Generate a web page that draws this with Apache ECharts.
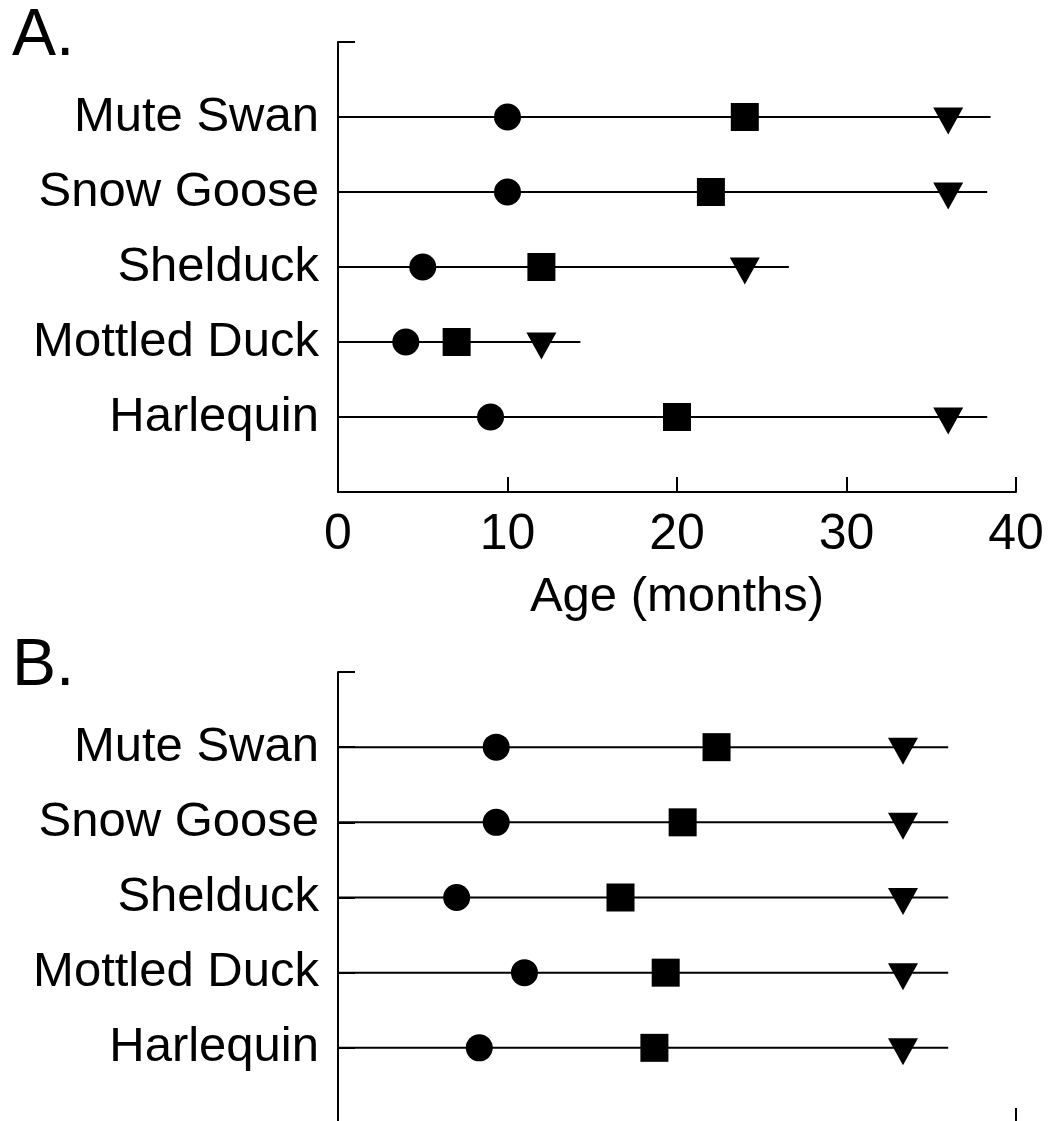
<!DOCTYPE html>
<html>
<head>
<meta charset="utf-8">
<title>Age at developmental stages in waterfowl</title>
<script src="https://cdn.jsdelivr.net/npm/echarts@6/dist/echarts.min.js"></script>
<style>
  html, body { margin: 0; padding: 0; background: #fff; overflow: hidden; }
  #chart { width: 1049px; height: 1140px; }
</style>
</head>
<body>
<div id="chart"></div>
<script>
// Species, listed top to bottom
const species = ['Mute Swan', 'Snow Goose', 'Shelduck', 'Mottled Duck', 'Harlequin'];

// Panel A: age in months
const ageCircle   = [10, 10, 5, 4, 9];
const ageSquare   = [24, 22, 12, 7, 20];
const ageTriangle = [36, 36, 24, 12, 36];
const ageLineEnd  = [38.5, 38.3, 26.6, 14.3, 38.3];
const ageTicks    = [0, 10, 20, 30, 40];

// Panel B: age relative to the last stage
const relCircle   = [0.28, 0.28, 0.21, 0.33, 0.25];
const relSquare   = [0.67, 0.61, 0.50, 0.58, 0.56];
const relTriangle = [1, 1, 1, 1, 1];
const relLineEnd  = [1.08, 1.08, 1.08, 1.08, 1.08];

const FONT = '"Liberation Sans", Arial, Helvetica, sans-serif';
const INK = '#000';
const TRI_DOWN = 'path://M0,0 L10,0 L5,9 Z';

// row position on the value axis: first species at the top
const rowOf = i => species.length - i;

function yAxisFor(gridIndex, showLabels) {
  return {
    type: 'value', gridIndex, min: 0, max: 6, interval: 1,
    axisLine: { show: true, lineStyle: { color: INK, width: 2 } },
    axisTick: { show: true, inside: true, length: 17, lineStyle: { color: INK, width: 2 } },
    splitLine: { show: false },
    axisLabel: {
      show: showLabels, margin: 19, color: INK, fontFamily: FONT, fontSize: 49,
      formatter: v => (v >= 1 && v <= species.length) ? species[species.length - v] : ''
    }
  };
}

function panelSeries(gridIdx, circle, square, tri, lineEnd) {
  const out = [];
  species.forEach((name, i) => {
    out.push({
      type: 'line', xAxisIndex: gridIdx, yAxisIndex: gridIdx,
      data: [[0, rowOf(i)], [lineEnd[i], rowOf(i)]],
      symbol: 'none', silent: true, z: 1,
      lineStyle: { color: INK, width: 2 }
    });
  });
  const mark = { color: INK, opacity: 1 };
  out.push({
    type: 'scatter', xAxisIndex: gridIdx, yAxisIndex: gridIdx, z: 3,
    symbol: 'circle', symbolSize: 27,
    itemStyle: mark,
    data: circle.map((v, i) => [v, rowOf(i)])
  });
  out.push({
    type: 'scatter', xAxisIndex: gridIdx, yAxisIndex: gridIdx, z: 3,
    symbol: 'rect', symbolSize: 28,
    itemStyle: mark,
    data: square.map((v, i) => [v, rowOf(i)])
  });
  out.push({
    type: 'scatter', xAxisIndex: gridIdx, yAxisIndex: gridIdx, z: 3,
    symbol: TRI_DOWN, symbolSize: [30, 27], symbolOffset: [0, 4],
    itemStyle: mark,
    data: tri.map((v, i) => [v, rowOf(i)])
  });
  return out;
}

const chart = echarts.init(document.getElementById('chart'), null, { renderer: 'canvas' });

chart.setOption({
  backgroundColor: '#fff',
  animation: false,
  textStyle: { fontFamily: FONT },
  graphic: [
    { type: 'text', left: 12, top: 4, style: { text: 'A.', fontSize: 66, fontFamily: FONT, fill: INK } },
    { type: 'text', left: 12, top: 634, style: { text: 'B.', fontSize: 66, fontFamily: FONT, fill: INK } }
  ],
  grid: [
    { left: 338, right: 33, top: 42, height: 450 },
    { left: 338, right: 33, top: 672, height: 451 }
  ],
  xAxis: [
    {
      type: 'value', gridIndex: 0, min: ageTicks[0], max: ageTicks[ageTicks.length - 1], interval: 10,
      name: 'Age (months)', nameLocation: 'middle', nameGap: 81,
      nameTextStyle: { color: INK, fontFamily: FONT, fontSize: 49 },
      axisLine: { show: true, lineStyle: { color: INK, width: 2 } },
      axisTick: { show: true, inside: true, length: 15, lineStyle: { color: INK, width: 2 } },
      splitLine: { show: false },
      axisLabel: { margin: 18, color: INK, fontFamily: FONT, fontSize: 50, showMinLabel: true, showMaxLabel: true }
    },
    {
      type: 'value', gridIndex: 1, min: 0, max: 1.2, interval: 1.2,
      axisLine: { show: true, lineStyle: { color: INK, width: 2 } },
      axisTick: { show: true, inside: true, length: 15, lineStyle: { color: INK, width: 2 } },
      splitLine: { show: false },
      axisLabel: { show: false }
    }
  ],
  yAxis: [yAxisFor(0, true), yAxisFor(1, true)],
  series: [
    ...panelSeries(0, ageCircle, ageSquare, ageTriangle, ageLineEnd),
    ...panelSeries(1, relCircle, relSquare, relTriangle, relLineEnd)
  ]
});
</script>
</body>
</html>
